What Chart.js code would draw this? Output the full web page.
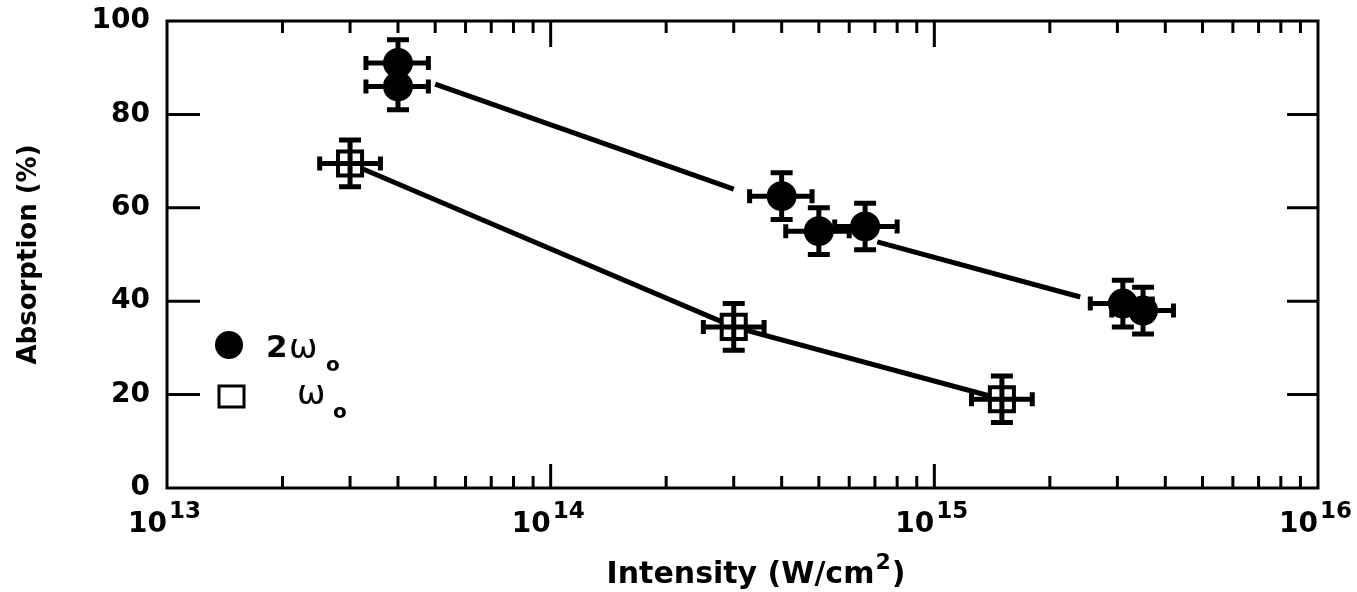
<!DOCTYPE html>
<html>
<head>
<meta charset="utf-8">
<script src="https://cdn.jsdelivr.net/npm/chart.js@4.4.0/dist/chart.umd.min.js"></script>
<style>
  html, body { margin: 0; padding: 0; background: #fff; }
</style>
</head>
<body>
<canvas id="absorption" width="1357" height="592"></canvas>
<script>
// 2ω0 shots (filled circles)
const harmonicX = [4e13, 4e13, 4e14, 5e14, 6.6e14, 3.1e15, 3.5e15];
const harmonicY = [91, 86, 62.5, 55, 56, 39.5, 38];
const harmonicXLow = [3.3e13, 3.3e13, 3.3e14, 4.1e14, 5.5e14, 2.55e15, 2.9e15];
const harmonicXHigh = [4.8e13, 4.8e13, 4.8e14, 6e14, 8e14, 3.7e15, 4.2e15];
const harmonicYErr = [5, 5, 5, 5, 5, 5, 5];

// ω0 shots (open squares)
const fundamentalX = [3e13, 3e14, 1.5e15];
const fundamentalY = [69.5, 34.5, 19];
const fundamentalXLow = [2.5e13, 2.5e14, 1.25e15];
const fundamentalXHigh = [3.6e13, 3.6e14, 1.8e15];
const fundamentalYErr = [5, 5, 5];

// straight line through the 2ω0 data, broken around the middle cluster
const fitX = [5e13, 3e14, 4.6e14, 7.1e14, 2.4e15];
const fitY = [86.5, 64, null, 52.7, 40.9];

const decadeTicks = [1e13, 1e14, 1e15, 1e16];
const decadeExponents = ['13', '14', '15', '16'];
const yTicks = [0, 20, 40, 60, 80, 100];

const FONT = 'DejaVu Sans';

const toPoints = (xs, ys) => xs.map((x, i) => ({ x: x, y: ys[i] }));
const toErrors = (lo, hi, dy) => lo.map((l, i) => ({ xLow: l, xHigh: hi[i], dy: dy[i] }));

// frame with inward tick marks on all four sides
const frame = {
    id: 'frame',
    afterDatasetsDraw(chart) {
        const { ctx, chartArea: a, scales: { x, y } } = chart;
        ctx.save();
        ctx.strokeStyle = '#000';
        ctx.lineWidth = 3;
        ctx.strokeRect(a.left, a.top, a.right - a.left, a.bottom - a.top);
        ctx.beginPath();
        decadeTicks.forEach((d, k) => {
            const major = x.getPixelForValue(d);
            if (k > 0 && k < decadeTicks.length - 1) {
                ctx.moveTo(major, a.top); ctx.lineTo(major, a.top + 26);
                ctx.moveTo(major, a.bottom); ctx.lineTo(major, a.bottom - 24);
            }
            if (k === decadeTicks.length - 1) return;
            for (let m = 2; m <= 9; m++) {
                const px = x.getPixelForValue(d * m);
                ctx.moveTo(px, a.top); ctx.lineTo(px, a.top + 12);
                ctx.moveTo(px, a.bottom); ctx.lineTo(px, a.bottom - 12);
            }
        });
        yTicks.slice(1, -1).forEach(v => {
            const py = y.getPixelForValue(v);
            ctx.moveTo(a.left, py); ctx.lineTo(a.left + 33, py);
            ctx.moveTo(a.right, py); ctx.lineTo(a.right - 31, py);
        });
        ctx.stroke();
        ctx.restore();
    }
};

// crossed error bars with end caps
const errorBars = {
    id: 'errorBars',
    afterDatasetsDraw(chart) {
        const { ctx, scales: { x, y } } = chart;
        ctx.save();
        ctx.strokeStyle = '#000';
        ctx.lineWidth = 5;
        chart.data.datasets.forEach(ds => {
            if (!ds.errors) return;
            ds.data.forEach((p, i) => {
                const e = ds.errors[i];
                const px = x.getPixelForValue(p.x);
                const py = y.getPixelForValue(p.y);
                const xl = x.getPixelForValue(e.xLow);
                const xh = x.getPixelForValue(e.xHigh);
                const yl = y.getPixelForValue(p.y - e.dy);
                const yh = y.getPixelForValue(p.y + e.dy);
                ctx.beginPath();
                ctx.moveTo(xl, py); ctx.lineTo(xh, py);
                ctx.moveTo(px, yl); ctx.lineTo(px, yh);
                ctx.moveTo(xl, py - 7); ctx.lineTo(xl, py + 7);
                ctx.moveTo(xh, py - 7); ctx.lineTo(xh, py + 7);
                ctx.moveTo(px - 11, yl); ctx.lineTo(px + 11, yl);
                ctx.moveTo(px - 11, yh); ctx.lineTo(px + 11, yh);
                ctx.stroke();
            });
        });
        ctx.restore();
    }
};

// decade labels with superscripts, x-axis title and the inset key
const labels = {
    id: 'labels',
    afterDraw(chart) {
        const { ctx, chartArea: a, scales: { x } } = chart;
        ctx.save();
        ctx.fillStyle = '#000';
        ctx.textBaseline = 'alphabetic';

        decadeTicks.forEach((d, k) => {
            const px = x.getPixelForValue(d);
            ctx.font = `bold 28px "${FONT}"`;
            ctx.textAlign = 'right';
            ctx.fillText('10', px, a.bottom + 44);
            ctx.font = `bold 23px "${FONT}"`;
            ctx.textAlign = 'left';
            ctx.fillText(decadeExponents[k], px + 2, a.bottom + 30);
        });

        // Intensity (W/cm²)
        const main = 'Intensity (W/cm';
        ctx.font = `bold 30px "${FONT}"`;
        const w1 = ctx.measureText(main).width;
        const w3 = ctx.measureText(')').width;
        ctx.font = `bold 22px "${FONT}"`;
        const w2 = ctx.measureText('2').width + 2;
        const tx = 756 - (w1 + w2 + w3) / 2;
        ctx.textAlign = 'left';
        ctx.font = `bold 30px "${FONT}"`;
        ctx.fillText(main, tx, 583);
        ctx.font = `bold 22px "${FONT}"`;
        ctx.fillText('2', tx + w1 + 1, 569);
        ctx.font = `bold 30px "${FONT}"`;
        ctx.fillText(')', tx + w1 + w2, 583);

        // key
        ctx.beginPath();
        ctx.arc(229, 345, 14, 0, Math.PI * 2);
        ctx.fill();
        ctx.lineWidth = 3;
        ctx.strokeRect(219, 386, 25, 21);

        ctx.font = `bold 31px "${FONT}"`;
        ctx.fillText('2', 266, 357);
        ctx.font = `34px "${FONT}"`;
        ctx.fillText('ω', 289, 358);
        ctx.fillText('ω', 297, 404);
        ctx.font = `bold 20px "${FONT}"`;
        ctx.fillText('o', 326, 371);
        ctx.fillText('o', 333, 418);
        ctx.restore();
    }
};

new Chart(document.getElementById('absorption'), {
    type: 'scatter',
    data: {
        datasets: [
            {
                label: '2ω0',
                data: toPoints(harmonicX, harmonicY),
                errors: toErrors(harmonicXLow, harmonicXHigh, harmonicYErr),
                pointStyle: 'circle',
                pointRadius: 15,
                pointBackgroundColor: '#000',
                pointBorderWidth: 0,
                showLine: false
            },
            {
                label: 'ω0',
                data: toPoints(fundamentalX, fundamentalY),
                errors: toErrors(fundamentalXLow, fundamentalXHigh, fundamentalYErr),
                pointStyle: 'rect',
                pointRadius: 17,
                pointBackgroundColor: '#fff',
                pointBorderColor: '#000',
                pointBorderWidth: 4,
                showLine: true,
                borderColor: '#000',
                borderWidth: 5
            },
            {
                label: 'fit',
                data: toPoints(fitX, fitY),
                showLine: true,
                spanGaps: false,
                pointRadius: 0,
                borderColor: '#000',
                borderWidth: 5
            }
        ]
    },
    options: {
        responsive: false,
        animation: false,
        devicePixelRatio: 1,
        layout: { padding: { top: 21, right: 39, bottom: 0, left: 0 } },
        plugins: {
            legend: { display: false },
            tooltip: { enabled: false }
        },
        scales: {
            x: {
                type: 'logarithmic',
                min: 1e13,
                max: 1e16,
                grid: { display: false, drawTicks: false },
                border: { display: false },
                ticks: { display: false },
                afterFit: s => {
                    s.height = 104;
                    s.paddingLeft = 0;
                    s.paddingRight = 0;
                }
            },
            y: {
                min: 0,
                max: 100,
                afterBuildTicks: s => { s.ticks = yTicks.map(v => ({ value: v })); },
                grid: { display: false, drawTicks: false },
                border: { display: false },
                ticks: {
                    padding: 17,
                    color: '#000',
                    font: { family: FONT, weight: 'bold', size: 28 }
                },
                title: {
                    display: true,
                    text: 'Absorption (%)',
                    color: '#000',
                    padding: { top: 14 },
                    font: { family: FONT, weight: 'bold', size: 26 }
                },
                afterFit: s => {
                    s.width = 167;
                    s.paddingTop = 0;
                    s.paddingBottom = 0;
                }
            }
        }
    },
    plugins: [frame, errorBars, labels]
});
</script>
</body>
</html>
